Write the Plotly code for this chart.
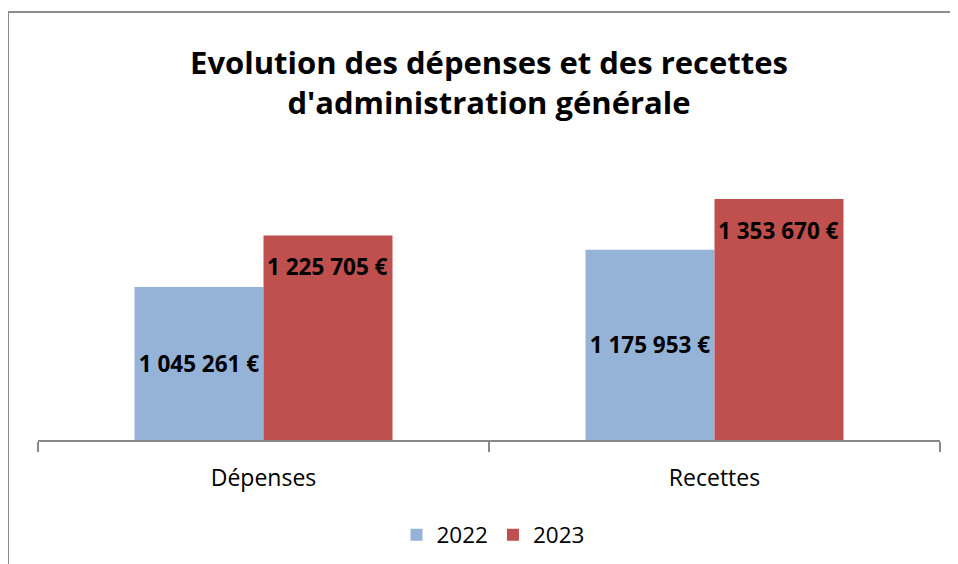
import plotly.graph_objects as go

categories = ["Dépenses", "Recettes"]
years = ["2022", "2023"]
values_2022 = [1045261, 1175953]
values_2023 = [1225705, 1353670]
labels_2022 = ["1 045 261 €", "1 175 953 €"]
labels_2023 = ["1 225 705 €", "1 353 670 €"]

Y_MIN = 509000          # value axis starts above zero (as in the source chart)
PER_PX = 3505

OFF = 8                  # default page body margin
W, H = 958 - OFF, 564 - OFF
L, R, T, B = 38 - OFF, 18, 130 - OFF, 124
pw, ph = W - L - R, H - T - B
BARGAP = 0.428

def px(x):
    return (x - OFF - L) / pw

def py(y):
    return (H - B - (y - OFF)) / ph

font = "Open Sans"
label_font = dict(family=font, size=22.5, color="black", weight="bold")
fig = go.Figure()
fig.add_trace(go.Bar(
    x=categories, y=[v - Y_MIN for v in values_2022], base=Y_MIN,
    name=years[0], marker_color="#95b3d7",
    marker_line_width=0, text=labels_2022, textposition="inside",
    insidetextanchor="middle", constraintext="none",
    textfont=label_font,
))
fig.add_trace(go.Bar(
    x=categories, y=[v - Y_MIN for v in values_2023], base=Y_MIN,
    name=years[1], marker_color="#c0504d",
    marker_line_width=0,
))

# 2023 labels: inside end of the bar, with Excel-like padding
bar_px = pw / len(categories) * (1 - BARGAP) / 2
for c, v, t in zip(categories, values_2023, labels_2023):
    fig.add_annotation(
        x=c, y=v, xref="x", yref="y", text=t, showarrow=False,
        xshift=bar_px / 2, yshift=-31, yanchor="middle", xanchor="center",
        font=label_font,
    )

fig.update_layout(
    width=W, height=H,
    margin=dict(l=L, r=R, t=T, b=B, autoexpand=False),
    paper_bgcolor="white", plot_bgcolor="white",
    barmode="group", bargap=BARGAP, bargroupgap=0,
    title=dict(
        text="Evolution des dépenses et des recettes<br>d'administration générale",
        x=px(489), xref="paper", xanchor="center",
        y=1 - (74 - OFF) / H, yanchor="middle",
        font=dict(family=font, size=31, color="black", weight="bold"),
    ),
    showlegend=True,
    legend=dict(
        orientation="h", x=px(493), xanchor="center",
        yref="container", y=(H - (535 - OFF)) / H, yanchor="middle",
        font=dict(family=font, size=22.5, color="black"),
        itemwidth=30, traceorder="normal",
    ),
    xaxis=dict(
        showline=True, linecolor="#898989", linewidth=2,
        ticks="outside", tickson="boundaries", ticklen=10, tickcolor="#898989", tickwidth=1.5,
        tickfont=dict(family=font, size=23, color="black"),
        ticklabelstandoff=16,
        showgrid=False, fixedrange=True,
    ),
    yaxis=dict(
        range=[Y_MIN, Y_MIN + ph * PER_PX], visible=False, showgrid=False,
    ),
    shapes=[
        dict(type="line", xref="paper", yref="paper", x0=px(8), x1=px(970), y0=py(12), y1=py(12),
             line=dict(color="#8c8c8c", width=2)),
        dict(type="line", xref="paper", yref="paper", x0=px(8), x1=px(8), y0=py(12), y1=py(580),
             line=dict(color="#8c8c8c", width=2)),
    ],
)

fig.write_html("out.html")
